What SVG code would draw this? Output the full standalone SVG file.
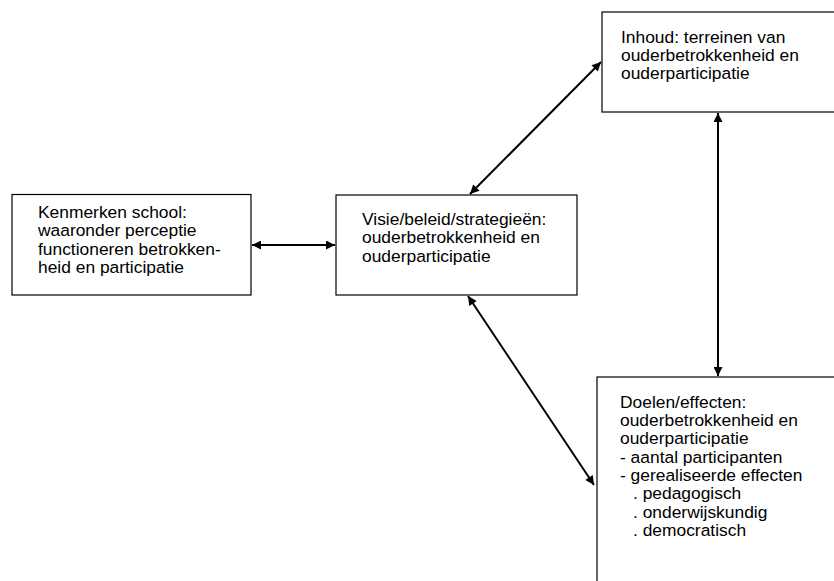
<svg xmlns="http://www.w3.org/2000/svg" width="834" height="581" viewBox="0 0 834 581">
<defs>
<style>
.box{fill:#fff;stroke:#000;stroke-width:1.2}
.t{font-family:"Liberation Sans",Arial,sans-serif;font-size:17.4px;fill:#000}
.c{stroke:#000;stroke-width:2;fill:none;marker-start:url(#ah);marker-end:url(#ah)}
</style>
<marker id="ah" viewBox="0 0 10 10" refX="10" refY="5" markerWidth="10" markerHeight="9" markerUnits="userSpaceOnUse" orient="auto-start-reverse">
<path d="M0,0 L10,5 L0,10 z" fill="#000"/>
</marker>
</defs>
<rect width="834" height="581" fill="#fff"/>
<g id="connectors">
<line class="c" x1="252" y1="245" x2="335" y2="245"/>
<line class="c" x1="470" y1="194" x2="601" y2="62"/>
<line class="c" x1="468" y1="296" x2="594" y2="485"/>
<line class="c" x1="718" y1="113" x2="718" y2="376"/>
</g>
<g id="kenmerken">
<rect class="box" x="12" y="194.5" width="239" height="100.5"/>
<text class="t"><tspan x="38" y="218">Kenmerken school:</tspan><tspan x="38" y="236.3">waaronder perceptie</tspan><tspan x="38" y="254.6">functioneren betrokken-</tspan><tspan x="38" y="272.9">heid en participatie</tspan></text>
</g>
<g id="visie">
<rect class="box" x="336" y="195" width="241" height="100"/>
<text class="t"><tspan x="362" y="225">Visie/beleid/strategieën:</tspan><tspan x="362" y="243.3">ouderbetrokkenheid en</tspan><tspan x="362" y="261.6">ouderparticipatie</tspan></text>
</g>
<g id="inhoud">
<rect class="box" x="602" y="12" width="240" height="100"/>
<text class="t"><tspan x="621" y="42.7">Inhoud: terreinen van</tspan><tspan x="621" y="61">ouderbetrokkenheid en</tspan><tspan x="621" y="79.3">ouderparticipatie</tspan></text>
</g>
<g id="doelen">
<rect class="box" x="597" y="377" width="250" height="220"/>
<text class="t"><tspan x="620" y="407.7">Doelen/effecten:</tspan><tspan x="620" y="426">ouderbetrokkenheid en</tspan><tspan x="620" y="444.3">ouderparticipatie</tspan><tspan x="620" y="462.6">- aantal participanten</tspan><tspan x="620" y="480.9">- gerealiseerde effecten</tspan><tspan x="633" y="499.2">. pedagogisch</tspan><tspan x="633" y="517.5">. onderwijskundig</tspan><tspan x="633" y="535.8">. democratisch</tspan></text>
</g>
</svg>
